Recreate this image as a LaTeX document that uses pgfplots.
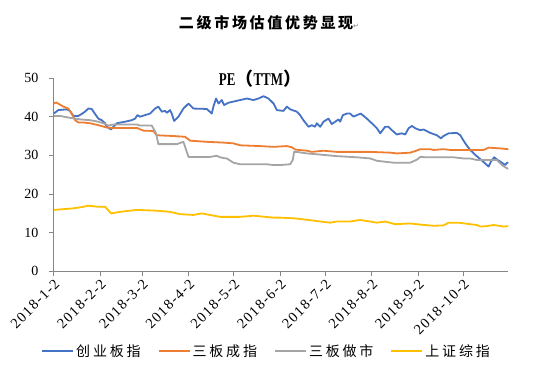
\documentclass[border=0pt]{standalone}
\usepackage{fontspec}
\setmainfont{Liberation Serif}
\newfontfamily\cjk[LetterSpace=18]{Noto Sans CJK SC}
\newfontfamily\cjkleg[LetterSpace=20]{Noto Sans CJK SC}
\newfontfamily\cjkplain{Noto Sans CJK SC}
\newfontfamily\petitle[FakeStretch=0.72]{Liberation Serif}
\newfontfamily\tickfont[LetterSpace=9]{Liberation Serif}
\newfontfamily\symb{DejaVu Sans}
\usepackage{pgfplots}
\pgfplotsset{compat=1.18}
\definecolor{cBlue}{HTML}{4472C4}
\definecolor{cOrange}{HTML}{ED7D31}
\definecolor{cGray}{HTML}{A5A5A5}
\definecolor{cYellow}{HTML}{FFC000}
\definecolor{axisgray}{HTML}{868686}

\pgfplotstableread{
day val
0 40.8
3.0 41.7
8.6 41.9
10.8 41.5
13.0 40.2
16.4 40.2
18.6 40.7
20.8 41.3
23.0 42.1
25.3 42.0
26.8 41.1
29.7 39.5
31.9 39.1
34.2 38.3
35.3 37.4
38.2 36.7
39.7 37.4
42.0 38.3
47.5 38.7
52.0 39.1
54.2 39.5
55.7 40.4
57.5 40.0
60.8 40.4
64.2 40.8
67.5 42.1
69.7 42.6
72.0 41.3
74.2 41.5
75.3 41.0
77.5 41.7
78.6 40.8
80.2 38.9
83.1 40.0
86.4 42.1
89.8 43.4
93.1 42.1
102.0 42.0
105.3 40.8
106.4 42.6
108.2 44.7
109.8 43.4
112.0 44.3
113.5 43.0
116.4 43.6
122.0 44.1
128.7 44.7
133.1 44.3
136.5 44.7
139.8 45.3
143.1 44.7
146.5 43.4
148.7 41.7
153.1 41.5
155.4 42.6
157.6 41.9
162 41.3
164.2 40.4
166.4 39.1
169.8 37.4
172 37.8
174.2 37.4
175.3 38.3
177.6 37.4
179.8 38.7
183.1 39.5
185.3 38.1
187.6 38.7
189.8 39.3
190.9 38.7
192.7 40.4
195.3 40.8
197.6 40.8
199.8 40.0
202 40.4
204.7 40.8
208.7 39.5
212 38.3
215.4 37.0
217.6 35.7
220.9 37.4
223.1 37.4
225.4 36.5
228.7 35.4
232.0 35.7
234.3 35.4
236.5 37.0
238.7 37.6
241 37.0
244.3 36.5
246.5 36.7
251 35.8
255.4 35.2
258.1 34.4
259.8 35.0
263.2 35.7
268.7 35.8
271 35.2
274.3 33.1
277.6 31.4
281 30.1
284.7 28.9
287.6 27.9
289.9 27.1
291.4 28.4
293.6 29.5
295.9 28.8
297.6 28.4
301 27.5
302.1 28.1
303 28.1
}\cyb

\pgfplotstableread{
day val
0 43.4
1.5 43.7
6.4 42.6
9.7 42.1
11.9 40.8
14.2 39.1
16.4 38.5
19.7 38.5
24.2 38.3
29.7 37.8
35.3 37.2
38.6 37.1
44.2 37.1
55.3 37.1
59.7 36.4
66.4 36.3
68.6 35.2
79.7 35.0
87.5 34.8
90.9 33.8
102 33.5
113.1 33.3
119.8 33.1
124.2 32.6
137.6 32.4
146.5 32.2
155.3 32.4
158.7 32.1
160.9 31.5
168.7 31.2
172 30.9
179.8 31.2
188.7 30.9
210.9 30.9
224.3 30.7
228.7 30.5
237.6 30.7
240.9 31.1
244.3 31.6
250.9 31.6
253.2 31.4
259.8 31.6
264.3 31.4
286.5 31.4
289.9 32.0
297.6 31.8
303 31.6
}\sbcz

\pgfplotstableread{
day val
0 40.2
4.1 40.2
10.8 39.7
17.5 39.3
24.2 39.1
29.7 38.7
33.1 38.3
36.4 37.7
39.7 38.0
55.3 38.0
57.5 37.7
65.3 37.7
68.2 35.7
69.7 32.9
82.0 32.9
86.4 33.5
89.8 29.6
104.2 29.6
108.7 29.9
110.9 29.5
113.1 29.3
115.3 29.2
119.8 28.1
124.2 27.7
142.0 27.7
146.5 27.5
150.9 27.5
157.5 27.7
159.3 28.8
160.2 30.9
162 30.9
168.7 30.5
177.6 30.2
188.7 29.8
202 29.5
210.9 29.2
215.4 28.6
219.8 28.4
226.5 28.1
237.6 28.1
242.1 28.9
244.3 29.6
248.7 29.5
266.5 29.5
273.2 29.2
277.6 29.2
282.1 28.8
295.4 28.8
298.7 27.5
301 26.9
303 26.5
}\sbzs

\pgfplotstableread{
day val
0 15.9
13.0 16.3
19.7 16.7
23.0 17.0
29.7 16.7
34.2 16.7
38.2 15.0
44.2 15.4
55.3 15.9
68.6 15.7
77.5 15.4
84.2 14.8
93.1 14.6
98.6 15.0
110.9 14.1
124.2 14.1
133.1 14.4
146.5 13.9
150.9 13.9
160.9 13.7
169.8 13.3
177.6 12.9
184.2 12.6
188.7 12.9
197.6 12.9
204.2 13.3
210.9 12.9
215.4 12.6
220.9 12.9
227.6 12.2
237.6 12.4
244.3 12.1
253.2 11.8
259.8 11.9
263.2 12.6
269.8 12.6
277.6 12.2
282.1 12.0
284.3 11.6
288.7 11.7
293.2 12.0
299.9 11.6
303 11.7
}\szzz

\begin{document}
\begin{tikzpicture}
\path[use as bounding box] (0,0) rectangle (534pt,373pt);
\begin{axis}[
  at={(53.8pt,101.6pt)}, anchor=south west,
  scale only axis, width=454.5pt, height=193.4pt,
  xmin=0, xmax=303, ymin=0, ymax=50,
  axis lines*=left,
  axis line style={axisgray, line width=0.8pt},
  tick style={axisgray, line width=0.8pt},
  tick align=outside, major tick length=5pt,
  xtick={0,31,59,90,120,151,181,212,243,273},
  xticklabels={2018-1-2,2018-2-2,2018-3-2,2018-4-2,2018-5-2,2018-6-2,2018-7-2,2018-8-2,2018-9-2,2018-10-2},
  ytick={0,10,20,30,40,50},
  xticklabel style={rotate=45, anchor=east, font=\tickfont\fontsize{14.5}{14.5}\selectfont, xshift=2pt, yshift=-6pt},
  yticklabel style={font=\fontsize{14}{14}\selectfont, xshift=-7pt},
  /pgf/number format/assume math mode=true,
  legend style={at={(0.468,-0.412)}, anchor=center, draw=none, fill=none,
    font=\cjkleg\fontsize{14}{14}\selectfont, legend columns=4,
    /tikz/every even column/.append style={column sep=15pt}},
  legend image code/.code={\draw[#1, line width=2pt] (0pt,0pt) -- (31pt,0pt);},
  every axis plot/.append style={line width=1.8pt, line join=round},
]
\addplot[cBlue] table[x=day,y=val]{\cyb};
\addlegendentry{创业板指}
\addplot[cOrange] table[x=day,y=val]{\sbcz};
\addlegendentry{三板成指}
\addplot[cGray] table[x=day,y=val]{\sbzs};
\addlegendentry{三板做市}
\addplot[cYellow] table[x=day,y=val]{\szzz};
\addlegendentry{上证综指}
\end{axis}
\node at (269pt,350.5pt) {{\cjk\bfseries\fontsize{15}{15}\selectfont 二级市场估值优势显现}{\color{gray}\symb\fontsize{7}{7}\selectfont ↵}};
\node at (260pt,294.7pt) {\bfseries\fontsize{18}{18}\selectfont{\petitle PE}{\cjkplain （}{\petitle TTM}{\cjkplain ）}};
\end{tikzpicture}
\end{document}
